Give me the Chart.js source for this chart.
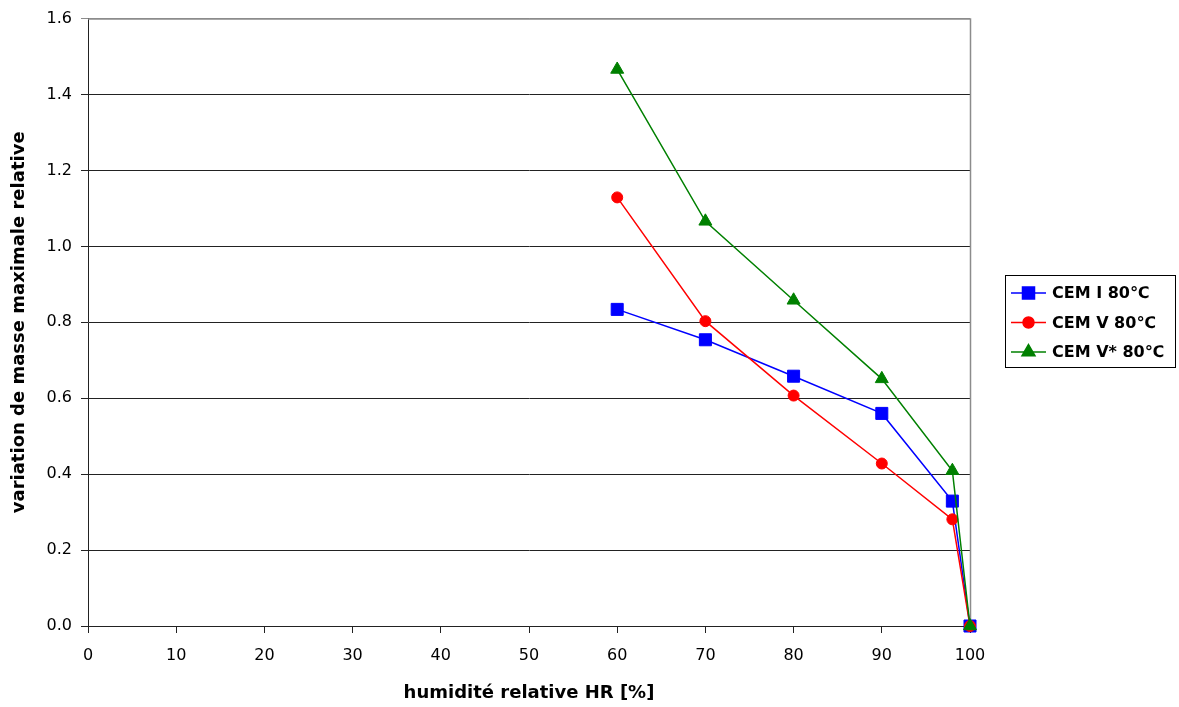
<!DOCTYPE html>
<html>
<head>
<meta charset="utf-8">
<script src="https://cdn.jsdelivr.net/npm/chart.js@4/dist/chart.umd.min.js"></script>
<style>
  html, body { margin: 0; padding: 0; background: #fff; }
  #wrap { width: 1179px; height: 707px; }
</style>
</head>
<body>
<div id="wrap"><canvas id="chart" width="1179" height="707"></canvas></div>
<script>
  // données
  var humidite = [60, 70, 80, 90, 98, 100];
  var cemI = [0.834, 0.754, 0.658, 0.560, 0.329, 0.0];
  var cemV = [1.129, 0.803, 0.607, 0.428, 0.281, 0.0];
  var cemVstar = [1.466, 1.066, 0.858, 0.651, 0.409, 0.0];
  var nomsSeries = ['CEM I 80\u2103', 'CEM V 80\u2103', 'CEM V* 80\u2103'];

  var FONT = 'DejaVu Sans';

  function points(ys) {
    return humidite.map(function (x, i) { return { x: x, y: ys[i] }; });
  }

  var series = [
    { label: nomsSeries[0], data: points(cemI), color: '#0000ff', style: 'rect', r: 8.5, order: 3 },
    { label: nomsSeries[1], data: points(cemV), color: '#ff0000', style: 'circle', r: 5.5, order: 2 },
    { label: nomsSeries[2], data: points(cemVstar), color: '#008000', style: 'triangle', r: 7.5, order: 1 }
  ];

  // bordure grise du cadre + légende encadrée
  var cadrePlugin = {
    id: 'cadre',
    beforeDatasetsDraw: function (chart) {
      var ctx = chart.ctx, a = chart.chartArea;
      ctx.save();
      ctx.strokeStyle = '#8c8c8c';
      ctx.lineWidth = 1.5;
      ctx.beginPath();
      ctx.moveTo(a.left, a.top + 0.5);
      ctx.lineTo(a.right + 0.5, a.top + 0.5);
      ctx.lineTo(a.right + 0.5, a.bottom);
      ctx.stroke();
      ctx.restore();
    },
    afterDraw: function (chart) {
      var ctx = chart.ctx, a = chart.chartArea;
      var bx = a.right + 35, by = 275, bw = 170, bh = 92;
      ctx.save();
      ctx.fillStyle = '#fff';
      ctx.fillRect(bx, by, bw, bh);
      ctx.strokeStyle = '#000';
      ctx.lineWidth = 1;
      ctx.strokeRect(bx + 0.5, by + 0.5, bw, bh);
      series.forEach(function (s, i) {
        var cy = by + 18 + i * 29.5;
        ctx.strokeStyle = s.color;
        ctx.lineWidth = 1.5;
        ctx.beginPath();
        ctx.moveTo(bx + 6, cy);
        ctx.lineTo(bx + 41, cy);
        ctx.stroke();
        ctx.fillStyle = s.color;
        Chart.helpers.drawPoint(ctx, { pointStyle: s.style, radius: s.r, borderWidth: 1, rotation: 0 }, bx + 23.5, cy);
        ctx.fill();
        ctx.fillStyle = '#000';
        ctx.font = 'bold 16px "' + FONT + '"';
        ctx.textBaseline = 'middle';
        ctx.textAlign = 'left';
        ctx.fillText(s.label, bx + 47, cy + 1);
      });
      ctx.restore();
    }
  };

  new Chart(document.getElementById('chart'), {
    type: 'line',
    data: {
      datasets: series.map(function (s) {
        return {
          label: s.label,
          data: s.data,
          borderColor: s.color,
          backgroundColor: s.color,
          borderWidth: 1.5,
          pointStyle: s.style,
          pointRadius: s.r,
          pointBorderWidth: 1,
          pointBackgroundColor: s.color,
          pointBorderColor: s.color,
          tension: 0,
          clip: false,
          order: s.order
        };
      })
    },
    options: {
      responsive: false,
      animation: false,
      devicePixelRatio: 1,
      layout: { padding: { top: 18, right: 209, left: 0, bottom: 0 } },
      plugins: {
        legend: { display: false },
        tooltip: { enabled: false }
      },
      scales: {
        x: {
          type: 'linear',
          min: 0,
          max: 100,
          afterFit: function (s) { s.height = 81; },
          ticks: {
            stepSize: 10,
            color: '#000',
            padding: 13,
            maxRotation: 0,
            font: { family: FONT, size: 16 }
          },
          grid: { drawOnChartArea: false, drawTicks: true, tickLength: 7, color: '#222' },
          border: { color: '#222', width: 1 },
          title: {
            display: true,
            text: 'humidit\u00e9 relative HR [%]',
            color: '#000',
            font: { family: FONT, size: 18, weight: 'bold' },
            padding: { top: 0, bottom: 3 }
          }
        },
        y: {
          min: 0,
          max: 1.6,
          afterFit: function (s) { s.width = 88; },
          ticks: {
            stepSize: 0.2,
            color: '#000',
            padding: 9,
            font: { family: FONT, size: 16 },
            callback: function (v) { return v.toFixed(1); }
          },
          grid: {
            drawTicks: true,
            tickLength: 7,
            color: function (c) { return c.tick && Math.abs(c.tick.value - 1.6) < 1e-6 ? '#8c8c8c' : '#222'; },
            lineWidth: 1
          },
          border: { color: '#222', width: 1 },
          title: {
            display: true,
            text: 'variation de masse maximale relative',
            color: '#000',
            font: { family: FONT, size: 18, weight: 'bold' },
            padding: { top: 9, bottom: 0 }
          }
        }
      }
    },
    plugins: [cadrePlugin]
  });
</script>
</body>
</html>
